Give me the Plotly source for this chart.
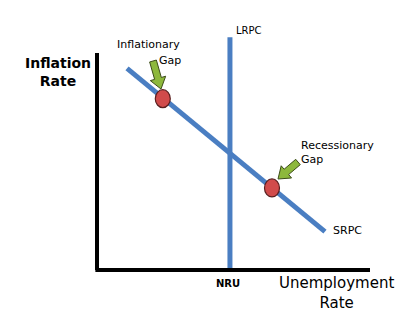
import plotly.graph_objects as go
import math

# Conceptual data (axis units 0..10)
srpc_x = [1.1, 8.35]
srpc_y = [8.4, 1.6]
lrpc_x = [4.87, 4.87]
lrpc_y = [0.0, 9.7]
gap_names = ["Inflationary Gap", "Recessionary Gap"]
gap_x = [2.41, 6.41]
gap_y = [7.14, 3.42]

# pixel <-> data mapping helpers (layout)
PX_X0, PX_PER_X = 97, 27.3
PX_Y0, PX_PER_Y = 270, 24.0
def dx(px): return (px - PX_X0) / PX_PER_X
def dy(py): return (PX_Y0 - py) / PX_PER_Y
def to_px(x, y): return (PX_X0 + x * PX_PER_X, PX_Y0 - y * PX_PER_Y)

fig = go.Figure()

BLUE = "#4A7EC2"
# LRPC
fig.add_trace(go.Scatter(x=lrpc_x, y=lrpc_y, mode="lines",
                         line=dict(color=BLUE, width=5), hoverinfo="skip"))
# SRPC
fig.add_trace(go.Scatter(x=srpc_x, y=srpc_y, mode="lines",
                         line=dict(color=BLUE, width=5), hoverinfo="skip"))

# axes lines (black)
fig.add_shape(type="line", x0=0, y0=0, x1=0, y1=dy(53),
              line=dict(color="black", width=4))
fig.add_shape(type="line", x0=-0.06, y0=0, x1=dx(370), y1=0,
              line=dict(color="black", width=4))

# gap dots as ellipses
for gx, gy in zip(gap_x, gap_y):
    cx, cy = to_px(gx, gy)
    fig.add_shape(type="circle", xref="x", yref="y",
                  x0=dx(cx - 7.5), x1=dx(cx + 7.5),
                  y0=dy(cy + 9), y1=dy(cy - 9),
                  fillcolor="#D14B4B", line=dict(color="#5a2020", width=1.2))

# arrows as polygons
def arrow_path(tail, tip, body=7, head_w=16, head_len=11):
    tx, ty = tail; hx, hy = tip
    L = math.hypot(hx - tx, hy - ty)
    ux, uy = (hx - tx) / L, (hy - ty) / L
    nx, ny = -uy, ux
    bx, by = hx - ux * head_len, hy - uy * head_len
    pts = [
        (tx + nx * body / 2, ty + ny * body / 2),
        (bx + nx * body / 2, by + ny * body / 2),
        (bx + nx * head_w / 2, by + ny * head_w / 2),
        (hx, hy),
        (bx - nx * head_w / 2, by - ny * head_w / 2),
        (bx - nx * body / 2, by - ny * body / 2),
        (tx - nx * body / 2, ty - ny * body / 2),
    ]
    return "M " + " L ".join(f"{dx(px):.4f},{dy(py):.4f}" for px, py in pts) + " Z"

for tail, tip in [((153, 61), (161, 89)), ((298, 162), (278, 179))]:
    fig.add_shape(type="path", path=arrow_path(tail, tip),
                  fillcolor="#8DB83C", line=dict(color="#3d4d1a", width=1))

FONT = "DejaVu Sans"
def txt(text, px, py, size, bold=False, xanchor="center", align="center"):
    fig.add_annotation(x=dx(px), y=dy(py), text=f"<b>{text}</b>" if bold else text,
                       showarrow=False, xanchor=xanchor, align=align,
                       font=dict(family=FONT, size=size, color="black"))

txt("Inflation<br>Rate", 58, 72, 14, bold=True)
txt("Unemployment<br>Rate", 336, 293, 15)
txt("NRU", 228, 283, 10, bold=True)
txt("LRPC", 234, 30, 10, xanchor="left")
txt("SRPC", 331, 230, 11, xanchor="left")
txt("Inflationary", 148, 44, 11)
txt("Gap", 183, 60, 11, xanchor="right")
txt("Recessionary<br>Gap", 299, 152, 11, xanchor="left", align="left")

fig.update_layout(
    width=410, height=327,
    margin=dict(l=0, r=0, t=0, b=0),
    paper_bgcolor="white", plot_bgcolor="white",
    showlegend=False,
    xaxis=dict(range=[dx(0), dx(410)], visible=False, fixedrange=True),
    yaxis=dict(range=[dy(327), dy(0)], visible=False, fixedrange=True),
)
fig.write_html("out.html")
